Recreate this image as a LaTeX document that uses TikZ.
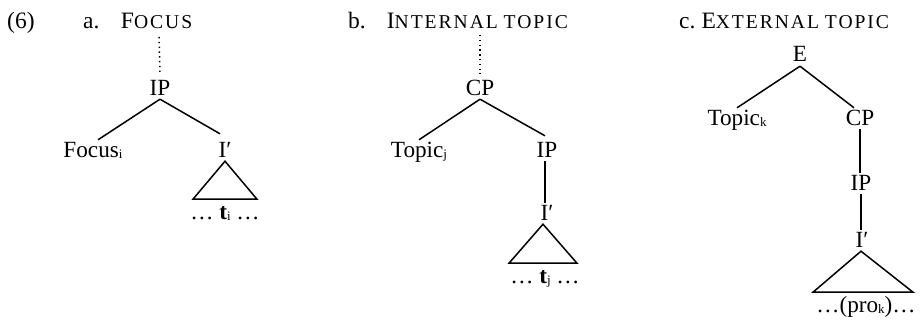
\documentclass[tikz,border=0pt]{standalone}
\usepackage{fontspec}
\setmainfont{Liberation Serif}
\newfontfamily\scfam[LetterSpace=10]{Liberation Serif}
\newcommand\sca[1]{{\scfam\fontsize{19.6}{21}\selectfont #1}}
\newcommand\sub[1]{\raisebox{-0.15ex}{\fontsize{13}{13}\selectfont #1}}
\tikzset{
  lab/.style={inner sep=2pt, text height=15pt, text depth=2pt, anchor=base, font=\fontsize{23.2}{26}\selectfont},
  ttl/.style={inner sep=0pt, anchor=base west, font=\fontsize{23.5}{26}\selectfont},
  edge/.style={line width=1.5pt},
  dots/.style={line width=1.5pt, dash pattern=on 1.4pt off 3.4pt},
}
\begin{document}
\begin{tikzpicture}[x=1pt,y=-1pt]
\useasboundingbox (0,0) rectangle (920,321);
% titles
\node[ttl] (num) at (7,29) {(6)};
\node[ttl] (tA) at (83,29) {a.\hspace*{21.5pt}F\sca{OCUS}};
\node[ttl] (tB) at (348,29) {b.\hspace*{21pt}I\sca{NTERNAL} \sca{TOPIC}};
\node[ttl] (tC) at (679,29) {c.\hspace*{6pt}E\sca{XTERNAL} \sca{TOPIC}};
% tree a
\coordinate (da) at (159,37);
\node[lab] (IPa) at (160,95) {IP};
\node[lab] (Fa) at (93,157) {Focus\sub{i}};
\node[lab] (Ia) at (225,157) {I′};
\node[lab] (tra) at (225,219) {\ldots\ \textbf{t}\sub{i} \ldots};
\draw[dots] (da) -- ([yshift=4pt]IPa.north);
\draw[edge] (IPa.south) -- ([xshift=5pt]Fa.north);
\draw[edge] (IPa.south) -- ([xshift=-5pt,yshift=6pt]Ia.north);
\draw[edge,line join=miter] (Ia.south) -- ++(-32,38) -- ++(64,0) -- cycle;
% tree b
\coordinate (db) at (480,35);
\node[lab] (CPb) at (480,95) {CP};
\node[lab] (Tb) at (419,157) {Topic\sub{j}};
\node[lab] (IPb) at (547,157) {IP};
\node[lab] (Ib) at (547,220) {I′};
\node[lab] (trb) at (545,283) {\ldots\ \textbf{t}\sub{j} \ldots};
\draw[dots] (db) -- ([yshift=4pt]CPb.north);
\draw[edge] (CPb.south) -- (Tb.north);
\draw[edge] (CPb.south) -- ([xshift=-2pt,yshift=4pt]IPb.north);
\draw[edge] ([xshift=-2pt]IPb.south) -- ([xshift=-2pt]IPb.south |- Ib.north);
\draw[edge,line join=miter] ([xshift=-4pt]Ib.south) -- ++(-34,39) -- ++(68,0) -- cycle;
% tree c
\node[lab] (E) at (800,62) {E};
\node[lab] (Tc) at (737,125) {Topic\sub{k}};
\node[lab] (CPc) at (860,125) {CP};
\node[lab] (IPc) at (861,190) {IP};
\node[lab] (Ic) at (862,247) {I′};
\node[lab] (trc) at (866,312) {\ldots(pro\sub{k})\ldots};
\draw[edge] (E.south) -- (Tc.north);
\draw[edge] (E.south) -- ([xshift=-6pt]CPc.north);
\draw[edge] (CPc.south) -- (CPc.south |- IPc.north);
\draw[edge] (IPc.south) -- (IPc.south |- Ic.north);
\draw[edge,line join=miter] ([xshift=-1pt]Ic.south) -- ++(-48,41) -- ++(100,0) -- cycle;
\end{tikzpicture}
\end{document}
